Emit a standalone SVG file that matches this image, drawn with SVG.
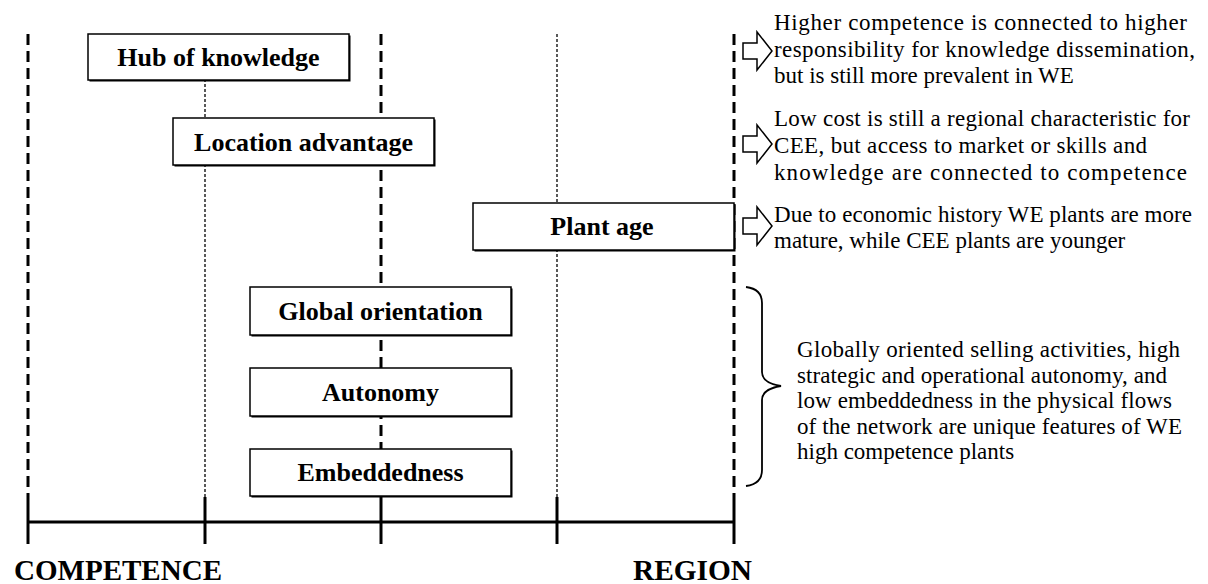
<svg xmlns="http://www.w3.org/2000/svg" width="1208" height="584" viewBox="0 0 1208 584">
<defs>
<style>
.bg{fill:#fff}
.box{fill:#fff;stroke:#000;stroke-width:1.5}
.shadow{fill:#000}
.lbl{font-family:"Liberation Serif","Times New Roman",serif;font-weight:bold;font-size:26px;fill:#000;text-anchor:middle}
.note{font-family:"Liberation Serif","Times New Roman",serif;font-size:23px;fill:#000}
.cap{font-family:"Liberation Serif","Times New Roman",serif;font-weight:bold;font-size:30px;fill:#000}
.thick{stroke:#000;stroke-width:3;stroke-dasharray:11 6;fill:none}
.dot{stroke:#000;stroke-width:1.3;stroke-dasharray:3 2;fill:none}
.axis{stroke:#000;stroke-width:3;fill:none}
.arrow{fill:#fff;stroke:#000;stroke-width:1.5;stroke-linejoin:miter}
.brace{fill:none;stroke:#000;stroke-width:1.8}
</style>
</defs>
<rect class="bg" x="0" y="0" width="1208" height="584"/>
<g id="connectors">
<line class="thick" x1="28" y1="34" x2="28" y2="497"/>
<line class="dot" x1="205" y1="34" x2="205" y2="497"/>
<line class="thick" x1="381" y1="34" x2="381" y2="497"/>
<line class="dot" x1="557" y1="34" x2="557" y2="497"/>
<line class="thick" x1="734" y1="34" x2="734" y2="497"/>
</g>
<g id="axis">
<line class="axis" x1="28" y1="522" x2="734" y2="522"/>
<line class="axis" x1="28" y1="497" x2="28" y2="544"/>
<line class="axis" x1="205" y1="497" x2="205" y2="544"/>
<line class="axis" x1="381" y1="497" x2="381" y2="544"/>
<line class="axis" x1="557" y1="497" x2="557" y2="544"/>
<line class="axis" x1="734" y1="497" x2="734" y2="544"/>
<text class="cap" x="14" y="580" textLength="208" lengthAdjust="spacingAndGlyphs">COMPETENCE</text>
<text class="cap" x="633" y="580" textLength="119" lengthAdjust="spacingAndGlyphs">REGION</text>
</g>
<g id="hub">
<rect class="shadow" x="89.5" y="35.5" width="261" height="46"/>
<rect class="box" x="88" y="34" width="261" height="46"/>
<text class="lbl" x="218.5" y="66">Hub of knowledge</text>
</g>
<g id="location">
<rect class="shadow" x="174.5" y="119.5" width="261" height="47"/>
<rect class="box" x="173" y="118" width="261" height="47"/>
<text class="lbl" x="303.5" y="151">Location advantage</text>
</g>
<g id="plant">
<rect class="shadow" x="474.5" y="204.5" width="261" height="47"/>
<rect class="box" x="473" y="203" width="261" height="47"/>
<text class="lbl" x="602" y="235">Plant age</text>
</g>
<g id="global">
<rect class="shadow" x="251.5" y="288.5" width="261" height="48"/>
<rect class="box" x="250" y="287" width="261" height="48"/>
<text class="lbl" x="380.5" y="320">Global orientation</text>
</g>
<g id="autonomy">
<rect class="shadow" x="251.5" y="369.5" width="261" height="48"/>
<rect class="box" x="250" y="368" width="261" height="48"/>
<text class="lbl" x="380.5" y="401">Autonomy</text>
</g>
<g id="embeddedness">
<rect class="shadow" x="251.5" y="450.5" width="261" height="47"/>
<rect class="box" x="250" y="449" width="261" height="47"/>
<text class="lbl" x="380.5" y="481">Embeddedness</text>
</g>
<g id="note1">
<path class="arrow" d="M743,43 H757 V32 L772,51 L757,70 V59 H743 Z"/>
<text class="note" x="774" y="30" textLength="413" lengthAdjust="spacing">Higher competence is connected to higher</text>
<text class="note" x="774" y="57" textLength="421" lengthAdjust="spacing">responsibility for knowledge dissemination,</text>
<text class="note" x="774" y="83">but is still more prevalent in WE</text>
</g>
<g id="note2">
<path class="arrow" d="M743,136 H757 V125 L772,144 L757,163 V152 H743 Z"/>
<text class="note" x="774" y="126" textLength="416" lengthAdjust="spacing">Low cost is still a regional characteristic for</text>
<text class="note" x="774" y="153" textLength="373" lengthAdjust="spacing">CEE, but access to market or skills and</text>
<text class="note" x="774" y="180" textLength="413" lengthAdjust="spacing">knowledge are connected to competence</text>
</g>
<g id="note3">
<path class="arrow" d="M743,218 H757 V207 L772,226 L757,245 V234 H743 Z"/>
<text class="note" x="774" y="222" textLength="418" lengthAdjust="spacing">Due to economic history WE plants are more</text>
<text class="note" x="774" y="248">mature, while CEE plants are younger</text>
</g>
<g id="note4">
<path class="brace" d="M746,287 Q762,289 762,303 V372 Q762,383 781,386 Q762,389 762,400 V470 Q762,484 746,486"/>
<text class="note" x="797" y="357" textLength="383" lengthAdjust="spacing">Globally oriented selling activities, high</text>
<text class="note" x="797" y="382.5" textLength="370" lengthAdjust="spacing">strategic and operational autonomy, and</text>
<text class="note" x="797" y="408" textLength="375" lengthAdjust="spacing">low embeddedness in the physical flows</text>
<text class="note" x="797" y="433.5" textLength="385" lengthAdjust="spacing">of the network are unique features of WE</text>
<text class="note" x="797" y="459">high competence plants</text>
</g>
</svg>
